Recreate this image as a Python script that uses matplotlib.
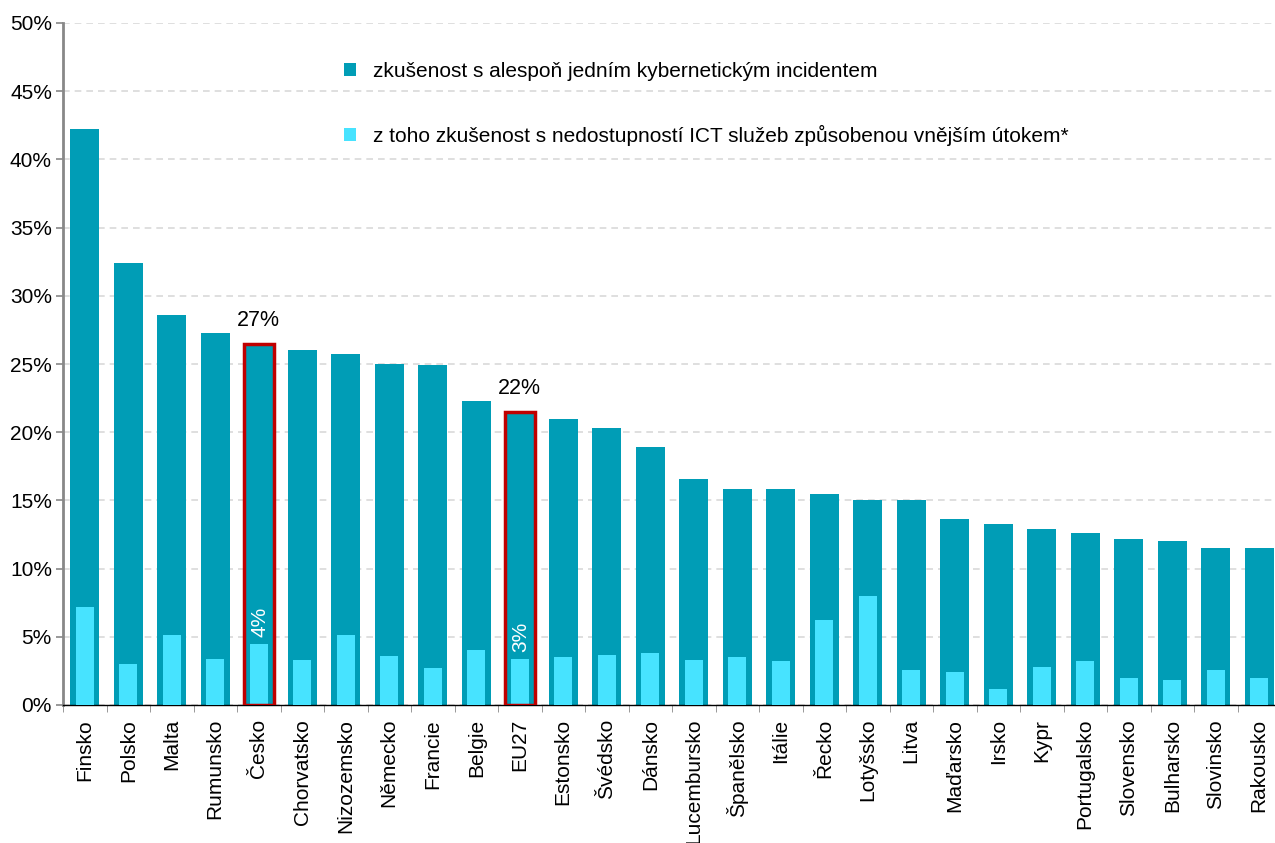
import numpy as np
import matplotlib
matplotlib.use("Agg")
from matplotlib import pyplot as plt

plt.rcParams['font.family'] = ['Liberation Sans', 'DejaVu Sans']

countries = ['Finsko', 'Polsko', 'Malta', 'Rumunsko', 'Česko', 'Chorvatsko', 'Nizozemsko',
             'Německo', 'Francie', 'Belgie', 'EU27', 'Estonsko', 'Švédsko', 'Dánsko',
             'Lucembursko', 'Španělsko', 'Itálie', 'Řecko', 'Lotyšsko', 'Litva', 'Maďarsko',
             'Irsko', 'Kypr', 'Portugalsko', 'Slovensko', 'Bulharsko', 'Slovinsko', 'Rakousko']
incident = [42.2, 32.4, 28.6, 27.3, 26.5, 26.0, 25.7, 25.0, 24.9, 22.3, 21.5, 21.0, 20.3, 18.9,
            16.6, 15.8, 15.8, 15.5, 15.0, 15.0, 13.6, 13.3, 12.9, 12.6, 12.2, 12.0, 11.5, 11.5]
outage = [7.2, 3.0, 5.1, 3.4, 4.5, 3.3, 5.1, 3.6, 2.7, 4.0, 3.4, 3.5, 3.7, 3.8,
          3.3, 3.5, 3.2, 6.2, 8.0, 2.6, 2.4, 1.2, 2.8, 3.2, 2.0, 1.8, 2.6, 2.0]
highlight = {'Česko': ('27%', '4%'), 'EU27': ('22%', '3%')}

dark = '#009db6'
light = '#47e3ff'

fig = plt.figure(figsize=(12.75, 8.43), dpi=100)
ax = fig.add_axes([63/1275, 1 - 705/843, 1218/1275, 682/843])

x = np.arange(len(countries))
ax.bar(x, incident, width=0.66, color=dark, zorder=2,
       label='zkušenost s alespoň jedním kybernetickým incidentem')
ax.bar(x, outage, width=0.41, color=light, zorder=3,
       label='z toho zkušenost s nedostupností ICT služeb způsobenou vnějším útokem*')

for name, (top_lbl, in_lbl) in highlight.items():
    i = countries.index(name)
    ax.bar(i, incident[i], width=0.70, facecolor='none', edgecolor='#c00000', linewidth=2.5, zorder=4)
    ax.text(i, incident[i] + 0.9, top_lbl, ha='center', va='bottom', fontsize=15.5)
    ax.text(i + 0.02, outage[i] + 0.5, in_lbl, ha='center', va='bottom', rotation=90,
            color='white', fontsize=15, zorder=5)

ax.set_xlim(-0.5, len(countries) - 0.5)
ax.set_ylim(0, 50)
ax.set_yticks(np.arange(0, 51, 5))
ax.set_yticklabels([f'{v}%' for v in range(0, 51, 5)], fontsize=15)
ax.yaxis.grid(True, linestyle=(0, (4, 3)), color='#d9d9d9', linewidth=1.2, zorder=0)

ax.set_xticks(x)
ax.set_xticklabels(countries, rotation=90, fontsize=15)
ax.tick_params(axis='x', which='major', length=0, pad=10)
ax.set_xticks(np.arange(-0.5, len(countries), 1), minor=True)
ax.tick_params(axis='x', which='minor', length=5, color='#888888')
ax.tick_params(axis='y', length=5, color='#888888', width=1.2, pad=3)

for s in ['top', 'right']:
    ax.spines[s].set_visible(False)
ax.spines['left'].set_color('#888888')
ax.spines['left'].set_linewidth(2)
ax.spines['bottom'].set_color('#000000')
ax.spines['bottom'].set_linewidth(1)

ax.legend(loc='upper left', bbox_to_anchor=(0.215, 0.97), frameon=False, fontsize=15,
          handlelength=0.6, handleheight=0.6, labelspacing=2.1, handletextpad=0.8)

fig.savefig('out.png', dpi=100)
